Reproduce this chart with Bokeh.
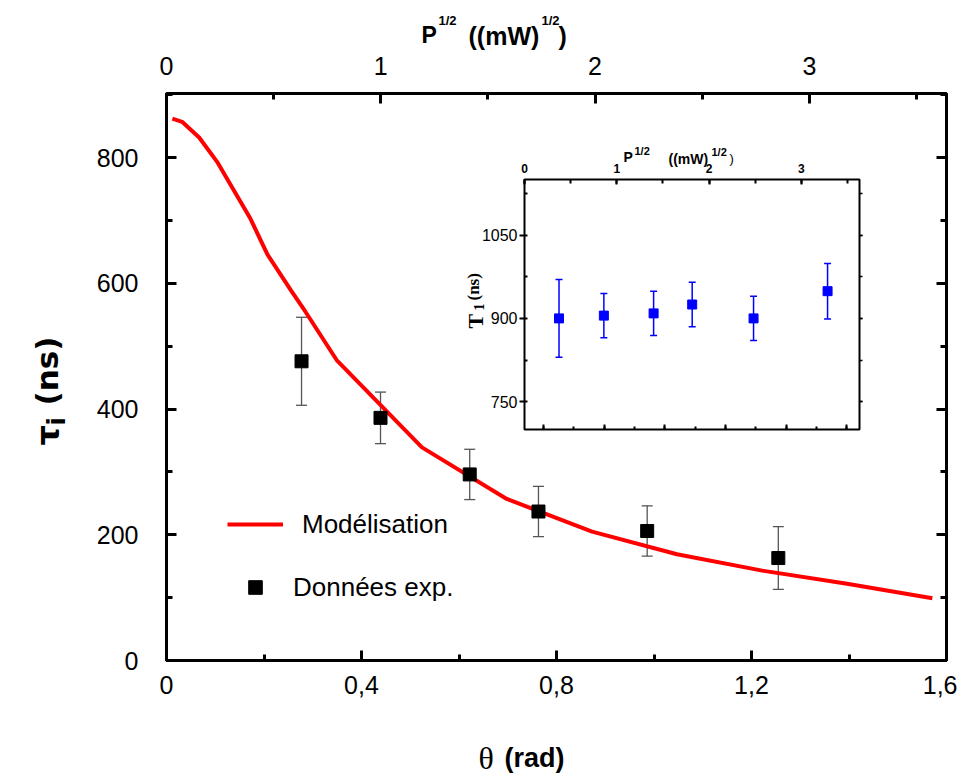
import math
from bokeh.plotting import figure
from bokeh.models import (Range1d, LinearAxis, SingleIntervalTicker, CustomJSTickFormatter,
                          ColumnDataSource, Whisker, TeeHead, Legend, LegendItem, Label)
from bokeh.embed import file_html
from bokeh.resources import INLINE

# ---------------- data ----------------
theta_model = [0.012, 0.032, 0.067, 0.105, 0.172, 0.207, 0.256, 0.284, 0.349, 0.524, 0.698,
               0.873, 1.047, 1.222, 1.396, 1.571]
tau_model = [862, 857, 832, 792, 703, 646, 588, 556, 478, 339, 257, 205, 169, 143, 122, 99]

theta_exp = [0.277, 0.439, 0.622, 0.763, 0.986, 1.255]
tau_exp = [476, 386, 296, 237, 206, 163]
tau_err = [70, 41, 40, 40, 40, 50]

p_inset = [0.374, 0.860, 1.399, 1.817, 2.482, 3.284]
t1_inset = [900, 905, 909, 925, 900, 949]
t1_err = [70, 40, 40, 40, 40, 50]

SANS = "Liberation Sans"
BLANK = CustomJSTickFormatter(code="return '';")

# ---------------- main figure ----------------
p = figure(width=957, height=776, x_range=Range1d(0, 1.6), y_range=Range1d(0, 902),
           output_backend="svg", toolbar_location=None,
           x_axis_location=None, y_axis_location=None,
           min_border_left=166, min_border_right=11, min_border_top=93, min_border_bottom=116,
           background_fill_color="white", border_fill_color="white")
p.xgrid.visible = False
p.ygrid.visible = False
p.outline_line_color = "black"
p.outline_line_width = 3
p.extra_x_ranges = {"P": Range1d(0, 3.64)}


def style(ax, tin=10, tout=0, min_in=6, min_out=0, size="25px", standoff=10, lw=3):
    ax.axis_line_color = None
    ax.major_tick_in = tin
    ax.major_tick_out = tout
    ax.minor_tick_in = min_in
    ax.minor_tick_out = min_out
    ax.major_tick_line_width = lw
    ax.minor_tick_line_width = lw
    ax.major_tick_line_color = "black"
    ax.minor_tick_line_color = "black"
    ax.major_label_text_font = SANS
    ax.major_label_text_font_size = size
    ax.major_label_text_color = "black"
    ax.major_label_standoff = standoff


xb = LinearAxis(ticker=SingleIntervalTicker(interval=0.4, num_minor_ticks=2),
                formatter=CustomJSTickFormatter(
                    code="return tick === 0 ? '0' : tick.toFixed(1).replace('.', ',');"))
style(xb, standoff=15)
p.add_layout(xb, "below")

xt = LinearAxis(x_range_name="P", ticker=SingleIntervalTicker(interval=1, num_minor_ticks=2))
style(xt, standoff=19)
p.add_layout(xt, "above")

yl = LinearAxis(ticker=SingleIntervalTicker(interval=200, num_minor_ticks=2))
style(yl, standoff=28)
p.add_layout(yl, "left")

yr = LinearAxis(ticker=SingleIntervalTicker(interval=200, num_minor_ticks=2), formatter=BLANK)
style(yr, standoff=0, size="10px")
p.add_layout(yr, "right")

# model curve
model_src = ColumnDataSource(dict(x=theta_model, y=tau_model))
line_r = p.line("x", "y", source=model_src, line_color="#ff0000", line_width=4)

# experimental data with error bars
exp_src = ColumnDataSource(dict(x=theta_exp, y=tau_exp,
                                lo=[v - e for v, e in zip(tau_exp, tau_err)],
                                hi=[v + e for v, e in zip(tau_exp, tau_err)]))
wk = Whisker(base="x", lower="lo", upper="hi", source=exp_src, level="underlay",
             line_color="#555555", line_width=1.3,
             upper_head=TeeHead(size=11, line_color="#555555", line_width=1.3),
             lower_head=TeeHead(size=11, line_color="#555555", line_width=1.3))
p.add_layout(wk)
pts_r = p.scatter("x", "y", source=exp_src, marker="square", size=13,
                  fill_color="black", line_color="black")

for items, loc, gw in (([LegendItem(label="Modélisation", renderers=[line_r])], (61, 119), 56),
                       ([LegendItem(label="Données exp.", renderers=[pts_r])], (70, 56), 38)):
    lg = Legend(items=items, location=loc, padding=0, margin=0, spacing=0,
                glyph_width=gw, glyph_height=34, label_height=34, label_standoff=19,
                label_text_font=SANS, label_text_font_size="26px", label_text_color="black",
                border_line_alpha=0, background_fill_alpha=0)
    p.add_layout(lg, "center")

# ---------------- inset ----------------
ins = figure(width=425, height=310, x_range=Range1d(0, 3.63), y_range=Range1d(700, 1150),
             output_backend="svg", toolbar_location=None,
             x_axis_location=None, y_axis_location=None,
             min_border_left=80, min_border_right=10, min_border_top=50, min_border_bottom=10,
             background_fill_alpha=0, border_fill_alpha=0,
             styles={"position": "absolute", "left": "444px", "top": "129px"})
ins.xgrid.visible = False
ins.ygrid.visible = False
ins.outline_line_color = "black"
ins.outline_line_width = 2
ins.extra_x_ranges = {"b": Range1d(0.138, 1.242)}

it = LinearAxis(ticker=SingleIntervalTicker(interval=1, num_minor_ticks=2))
style(it, tin=5, min_in=4, size="12px", standoff=7, lw=2)
it.major_label_text_font_style = "bold"
ins.add_layout(it, "above")

ib = LinearAxis(x_range_name="b", ticker=SingleIntervalTicker(interval=0.2, num_minor_ticks=2),
                formatter=BLANK)
style(ib, tin=5, min_in=3, size="8px", standoff=0, lw=2)
ins.add_layout(ib, "below")

il = LinearAxis(ticker=SingleIntervalTicker(interval=150, num_minor_ticks=2))
style(il, tin=0, tout=5, min_in=3, min_out=0, size="16px", standoff=2, lw=2)
ins.add_layout(il, "left")

ir = LinearAxis(ticker=SingleIntervalTicker(interval=150, num_minor_ticks=2), formatter=BLANK)
style(ir, tin=0, tout=3, min_in=0, min_out=3, size="8px", standoff=0, lw=1.5)
ins.add_layout(ir, "right")

ins_src = ColumnDataSource(dict(x=p_inset, y=t1_inset,
                                lo=[v - e for v, e in zip(t1_inset, t1_err)],
                                hi=[v + e for v, e in zip(t1_inset, t1_err)]))
iwk = Whisker(base="x", lower="lo", upper="hi", source=ins_src, level="underlay",
              line_color="#0000ff", line_width=1.5,
              upper_head=TeeHead(size=7, line_color="#0000ff", line_width=1.5),
              lower_head=TeeHead(size=7, line_color="#0000ff", line_width=1.5))
ins.add_layout(iwk)
ins.scatter("x", "y", source=ins_src, marker="square", size=9,
            fill_color="#0000ff", line_color="#0000ff")

# ---------------- transparent overlay carrying the axis titles ----------------
ov = figure(width=957, height=776, x_range=Range1d(0, 957), y_range=Range1d(776, 0),
            output_backend="svg", toolbar_location=None,
            x_axis_location=None, y_axis_location=None,
            min_border=0, background_fill_alpha=0, border_fill_alpha=0,
            outline_line_color=None,
            styles={"position": "absolute", "left": "0px", "top": "0px",
                    "pointer-events": "none"})
ov.xgrid.visible = False
ov.ygrid.visible = False


def lab(x, y, text, size, font=SANS, style="bold", angle=0.0):
    ov.add_layout(Label(x=x, y=y, text=text, angle=angle, text_font=font,
                        text_font_size=size, text_font_style=style, text_color="black",
                        text_align="left", text_baseline="alphabetic"))


# main top title  P^1/2  ((mW)^1/2)
lab(421, 34, "P", "23px")
lab(438, 20, "1/2", "13px")
lab(468, 35, "((mW)", "25px")
lab(541, 20, "1/2", "13px")
lab(558, 35, ")", "25px")
# main bottom title  θ  (rad)
lab(478, 757, "θ", "32px", font="Liberation Serif", style="normal")
lab(504, 757, "(rad)", "27px")
# main left title  τ_i  (ns)
lab(47, 445, "τ", "32px", font="DejaVu Sans", angle=math.pi / 2)
lab(56, 425, "i", "24px", font="DejaVu Sans", angle=math.pi / 2)
lab(46, 405, "(ns)", "31px", font="DejaVu Sans", angle=math.pi / 2)
# inset top title
lab(623, 156, "P", "14px")
lab(634, 150, "1/2", "11px")
lab(668, 158, "((mW)", "14px")
lab(711, 151, "1/2", "11px")
lab(729, 158, ")", "13px", style="normal")
# inset left title  T_1 (ns)
lab(475, 328, "T", "22px", font="Liberation Serif", angle=math.pi / 2)
lab(478, 310, "1", "14px", font="Liberation Serif", angle=math.pi / 2)
lab(473, 300, "(ns)", "17px", font="Liberation Serif", angle=math.pi / 2)

open("out.html", "w").write(file_html([p, ins, ov], INLINE))
